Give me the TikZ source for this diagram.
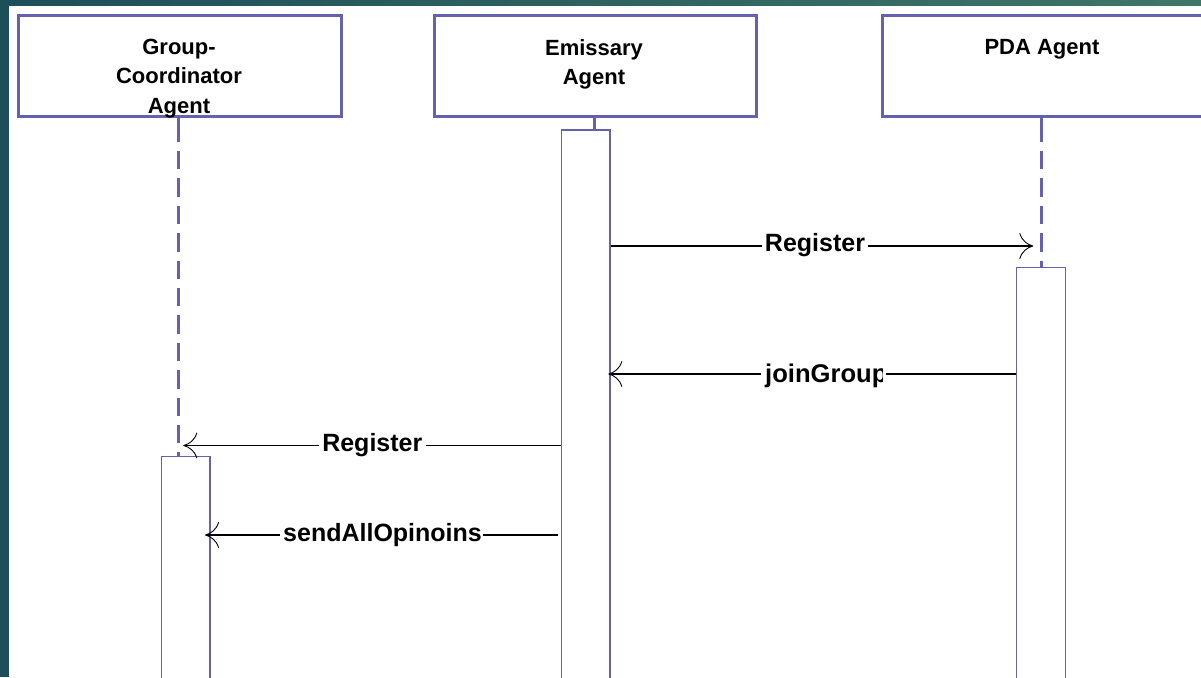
\documentclass[tikz,border=0pt]{standalone}
\usepackage{fontspec}
\setmainfont{Liberation Sans}
\usetikzlibrary{arrows.meta}
\definecolor{lifeblue}{RGB}{100,98,176}
\definecolor{frameteal}{RGB}{29,79,90}
\definecolor{frameteal2}{RGB}{62,118,102}
\begin{document}
\begin{tikzpicture}[x=1pt,y=-1pt,
  headbox/.style={draw=lifeblue, line width=2.7pt, fill=white, rectangle,
    inner sep=0pt, minimum width=322.6pt, minimum height=101pt},
  headtext/.style={anchor=north, align=center, inner sep=0pt,
    font=\bfseries\fontsize{22}{29.3}\selectfont},
  actbox/.style={draw=lifeblue, line width=1.3pt, fill=white, rectangle,
    inner sep=0pt, minimum width=48.5pt},
  lifesolid/.style={draw=lifeblue, line width=2.7pt},
  lifedash/.style={draw=lifeblue, line width=2.7pt, dash pattern=on 18.3pt off 9.1pt},
  msgline/.style={draw=black, line width=1.1pt},
  msgarrow/.style={msgline, -{Computer Modern Rightarrow[length=14pt,width=26pt,line width=0.9pt]}},
  msglabel/.style={fill=white, inner xsep=3pt, inner ysep=0pt, anchor=base,
    font=\bfseries\fontsize{25}{30}\selectfont},
]
\useasboundingbox (0,0) rectangle (1201,677);
\clip (0,0) rectangle (1201,677);

% page background and frame
\fill[white] (0,0) rectangle (1201,677);
\fill[frameteal] (0,0) rectangle (8.7,677);
\shade[left color=frameteal, right color=frameteal2] (0,0) rectangle (1201,5.7);

% lifelines
\coordinate (gcDashTop) at (178.3,151);
\coordinate (pdaDashTop) at (1041.7,151);
\draw[lifesolid] (178.3,116) -- (178.3,141.7);
\draw[lifedash] (gcDashTop) -- (178.3,456.7);
\draw[lifesolid] (1041.7,116) -- (1041.7,141.7);
\draw[lifedash] (pdaDashTop) -- (1041.7,267.7);
\draw[lifesolid] (594.3,116) -- (594.3,130);

% activation bars
\node[actbox, minimum height=240pt] (gcAct) at (185.75,576.7) {};
\node[actbox, minimum height=560pt] (emAct) at (585.85,410) {};
\node[actbox, minimum height=420pt] (pdaAct) at (1041,477.7) {};

% header boxes
\node[headbox] (gcHead) at (180,65.8) {};
\node[headbox] (emHead) at (595.5,65.8) {};
\node[headbox] (pdaHead) at (1043.5,65.8) {};
\node[headtext] (gcText) at (179,39) {Group-\\Coordinator\\Agent};
\node[headtext] (emText) at (594,39) {Emissary\\Agent};
\node[headtext] (pdaText) at (1042,39) {PDA Agent};

% message 1: Register (Emissary -> PDA)
\coordinate (m1tip) at (1033.3,246);
\node[msglabel] (m1lbl) at (815,251.5) {Register};
\draw[msgline] (emAct.east |- m1tip) -- (m1lbl.west |- m1tip);
\draw[msgarrow] (m1lbl.east |- m1tip) -- (m1tip);

% message 2: joinGroup (PDA -> Emissary)
\coordinate (m2tip) at (608.3,374);
\coordinate (m2cut) at (882,374);
\coordinate (m2resume) at (886,374);
\draw[msgline] (pdaAct.west |- m2tip) -- (m2resume);
\begin{scope}
  \clip (700,340) rectangle (m2cut |- 0,400);
  \node[msglabel, anchor=base west, inner xsep=0pt,
        font=\bfseries\fontsize{25.6}{30}\selectfont] (m2lbl) at (765,382) {joinGroup};
\end{scope}
\draw[msgarrow] (761,374) -- (m2tip);

% message 3: Register (Emissary -> Group-Coordinator)
\coordinate (m3tip) at (183.3,445.5);
\node[msglabel] (m3lbl) at (372.3,451) {Register};
\draw[msgline] (emAct.west |- m3tip) -- (m3lbl.east |- m3tip);
\draw[msgarrow] (m3lbl.west |- m3tip) -- (m3tip);

% message 4: sendAllOpinoins (Emissary -> Group-Coordinator)
\coordinate (m4tip) at (205,535);
\coordinate (m4cut) at (480.5,535);
\coordinate (m4end) at (558.3,535);
\draw[msgline] (483,535) -- (m4end);
\begin{scope}
  \clip (270,500) rectangle (m4cut |- 0,560);
  \node[msglabel, anchor=base west, inner xsep=0pt] (m4lbl) at (283,541) {sendAllOpinoins};
\end{scope}
\draw[msgarrow] (279.5,535) -- (m4tip);
\end{tikzpicture}
\end{document}
